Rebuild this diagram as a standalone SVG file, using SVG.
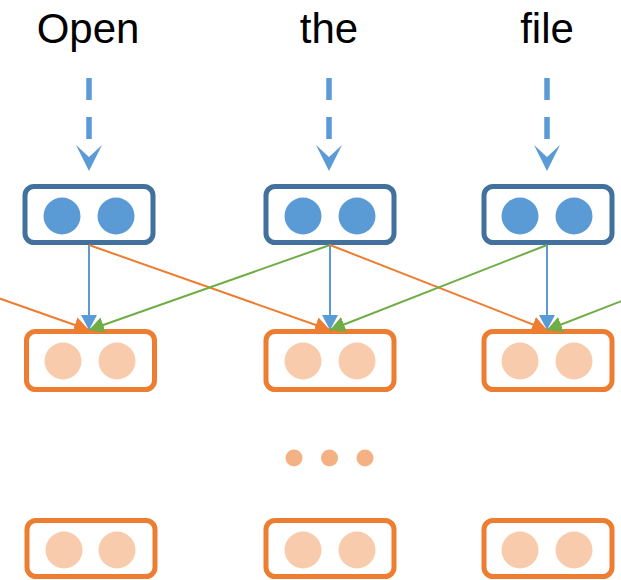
<svg xmlns="http://www.w3.org/2000/svg" width="621" height="580" viewBox="0 0 621 580">
  <style>
    .word { font-family: "Liberation Sans", Arial, sans-serif; font-size: 42px; fill: #000; text-anchor: middle; }
    .enc { fill: #fff; stroke: #41719C; stroke-width: 5; }
    .enc-dot { fill: #5B9BD5; }
    .dec { fill: #fff; stroke: #ED7D31; stroke-width: 5; }
    .dec-dot { fill: #F8CBAD; }
    .more { fill: #F4B183; }
    .feed { stroke: #5B9BD5; stroke-width: 5.5; stroke-dasharray: 22 17; fill: none; }
    .feed-head { fill: #5B9BD5; }
    .up { stroke: #5B9BD5; stroke-width: 2; fill: none; marker-end: url(#head-blue); }
    .fwd { stroke: #ED7D31; stroke-width: 2; fill: none; marker-end: url(#head-orange); }
    .bwd { stroke: #70AD47; stroke-width: 2; fill: none; marker-end: url(#head-green); }
  </style>
  <defs>
    <marker id="head-blue" markerUnits="userSpaceOnUse" markerWidth="16" markerHeight="16" refX="15" refY="8" orient="auto">
      <path d="M0,0 L15,8 L0,16 Z" fill="#5B9BD5"/>
    </marker>
    <marker id="head-orange" markerUnits="userSpaceOnUse" markerWidth="16" markerHeight="16" refX="15" refY="8" orient="auto">
      <path d="M0,0 L15,8 L0,16 Z" fill="#ED7D31"/>
    </marker>
    <marker id="head-green" markerUnits="userSpaceOnUse" markerWidth="16" markerHeight="16" refX="15" refY="8" orient="auto">
      <path d="M0,0 L15,8 L0,16 Z" fill="#70AD47"/>
    </marker>
  </defs>

  <!-- input words -->
  <g id="word-open"><text class="word" x="88" y="43">Open</text></g>
  <g id="word-the"><text class="word" x="329" y="43">the</text></g>
  <g id="word-file"><text class="word" x="547" y="43">file</text></g>

  <!-- encoder cells -->
  <g id="enc-1">
    <rect class="enc" x="25" y="186.5" width="128" height="56" rx="9"/>
    <circle class="enc-dot" cx="62" cy="216" r="18.5"/>
    <circle class="enc-dot" cx="116" cy="216" r="18.5"/>
  </g>
  <g id="enc-2">
    <rect class="enc" x="266" y="186.5" width="128" height="56" rx="9"/>
    <circle class="enc-dot" cx="303" cy="216" r="18.5"/>
    <circle class="enc-dot" cx="357" cy="216" r="18.5"/>
  </g>
  <g id="enc-3">
    <rect class="enc" x="484" y="186.5" width="128" height="56" rx="9"/>
    <circle class="enc-dot" cx="520" cy="216" r="18.5"/>
    <circle class="enc-dot" cx="574" cy="216" r="18.5"/>
  </g>

  <!-- first hidden layer -->
  <g id="hid-1">
    <rect class="dec" x="26.5" y="331.5" width="128" height="58" rx="9"/>
    <circle class="dec-dot" cx="63" cy="361" r="18.5"/>
    <circle class="dec-dot" cx="117" cy="361" r="18.5"/>
  </g>
  <g id="hid-2">
    <rect class="dec" x="266" y="331.5" width="128" height="58" rx="9"/>
    <circle class="dec-dot" cx="303" cy="361" r="18.5"/>
    <circle class="dec-dot" cx="357" cy="361" r="18.5"/>
  </g>
  <g id="hid-3">
    <rect class="dec" x="484" y="331.5" width="128" height="58" rx="9"/>
    <circle class="dec-dot" cx="520" cy="361" r="18.5"/>
    <circle class="dec-dot" cx="574" cy="361" r="18.5"/>
  </g>

  <!-- ellipsis -->
  <g id="more">
    <circle class="more" cx="294" cy="458" r="8.5"/>
    <circle class="more" cx="329.5" cy="458" r="8.5"/>
    <circle class="more" cx="365" cy="458" r="8.5"/>
  </g>

  <!-- last hidden layer -->
  <g id="top-1">
    <rect class="dec" x="27" y="520.5" width="128" height="56" rx="9"/>
    <circle class="dec-dot" cx="64" cy="550" r="18.5"/>
    <circle class="dec-dot" cx="117" cy="550" r="18.5"/>
  </g>
  <g id="top-2">
    <rect class="dec" x="266" y="520.5" width="128" height="56" rx="9"/>
    <circle class="dec-dot" cx="303" cy="550" r="18.5"/>
    <circle class="dec-dot" cx="357" cy="550" r="18.5"/>
  </g>
  <g id="top-3">
    <rect class="dec" x="484" y="520.5" width="128" height="56" rx="9"/>
    <circle class="dec-dot" cx="520" cy="550" r="18.5"/>
    <circle class="dec-dot" cx="574" cy="550" r="18.5"/>
  </g>

  <!-- connectors -->
  <g id="connectors">
    <!-- word inputs -->
    <line class="feed" x1="89" y1="78" x2="89" y2="152"/>
    <path class="feed-head" d="M76,145 L89,157 L102,145 L89,171 Z"/>
    <line class="feed" x1="329" y1="78" x2="329" y2="152"/>
    <path class="feed-head" d="M316,145 L329,157 L342,145 L329,171 Z"/>
    <line class="feed" x1="547" y1="78" x2="547" y2="152"/>
    <path class="feed-head" d="M534,145 L547,157 L560,145 L547,171 Z"/>

    <!-- vertical links -->
    <line class="up" x1="89" y1="245" x2="89" y2="330"/>
    <line class="up" x1="330" y1="245" x2="330" y2="330"/>
    <line class="up" x1="547" y1="245" x2="547" y2="330"/>

    <!-- forward-direction links -->
    <line class="fwd" x1="-152" y1="245" x2="89" y2="330"/>
    <line class="fwd" x1="89" y1="245" x2="330" y2="330"/>
    <line class="fwd" x1="330" y1="245" x2="547" y2="330"/>

    <!-- backward-direction links -->
    <line class="bwd" x1="330" y1="245" x2="89" y2="330"/>
    <line class="bwd" x1="547" y1="245" x2="330" y2="330"/>
    <line class="bwd" x1="766" y1="245" x2="547" y2="330"/>
  </g>
</svg>
